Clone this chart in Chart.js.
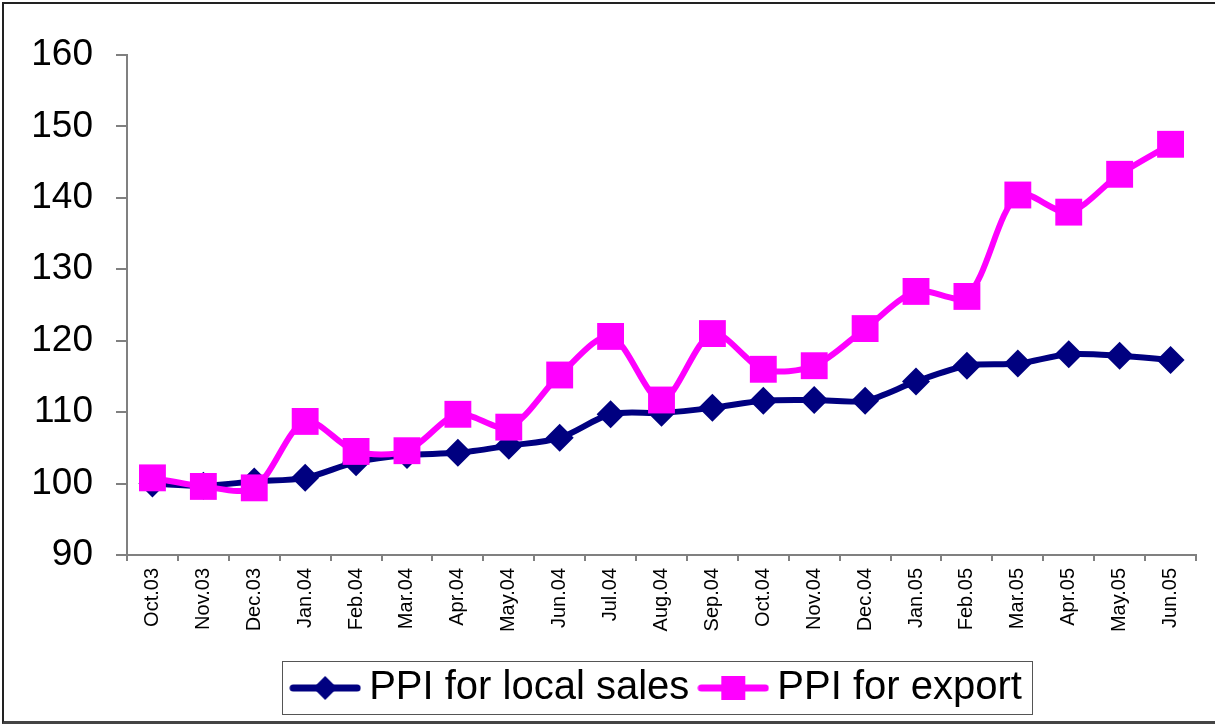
<!DOCTYPE html>
<html lang="en">
<head>
    <meta charset="UTF-8">
    <title>PPI for local sales and export</title>
    <script src="https://cdn.jsdelivr.net/npm/chart.js@4.4.0/dist/chart.umd.min.js"></script>
    <style>
        body {
            margin: 0;
            background: #fff;
        }
        .wrap {
            position: relative;
            width: 1215px;
            height: 725px;
            overflow: hidden;
        }
        .frame {
            position: absolute;
            left: 2px;
            top: 2px;
            width: 1240px;
            height: 717px;
            border-top: 2px solid #222;
            border-left: 2px solid #222;
            border-bottom: 3px solid #444;
            pointer-events: none;
        }
    </style>
</head>
<body>
    <div class="wrap">
        <canvas id="ppiChart" width="1215" height="725"></canvas>
        <div class="frame"></div>
    </div>

    <script>
        const months = ['Oct.03', 'Nov.03', 'Dec.03', 'Jan.04', 'Feb.04', 'Mar.04', 'Apr.04',
            'May.04', 'Jun.04', 'Jul.04', 'Aug.04', 'Sep.04', 'Oct.04', 'Nov.04', 'Dec.04',
            'Jan.05', 'Feb.05', 'Mar.05', 'Apr.05', 'May.05', 'Jun.05'];
        const localSales = [100, 99.7, 100.3, 100.8, 103, 104, 104.3, 105.3, 106.4, 109.7,
            109.9, 110.6, 111.6, 111.7, 111.6, 114.3, 116.5, 116.8, 118.1, 117.9, 117.3];
        const exportPrices = [100.8, 99.6, 99.4, 108.7, 104.5, 104.6, 109.7, 107.9, 115.2, 120.6,
            111.7, 121, 116, 116.5, 121.7, 126.9, 126.2, 140.4, 138, 143.3, 147.5];
        const yMin = 90;
        const yMax = 160;
        const yStep = 10;

        const FONT = "'Liberation Sans', Arial, sans-serif";
        const NAVY = '#000080';
        const MAGENTA = '#FF00FF';

        // little line+marker pictures for the legend, excel style
        function legendIcon(color, shape) {
            const c = document.createElement('canvas');
            c.width = 72;
            c.height = 30;
            const g = c.getContext('2d');
            g.strokeStyle = color;
            g.lineWidth = 7;
            g.lineCap = 'round';
            g.beginPath();
            g.moveTo(4, 15);
            g.lineTo(68, 15);
            g.stroke();
            g.fillStyle = color;
            if (shape === 'diamond') {
                g.beginPath();
                g.moveTo(36, 3);
                g.lineTo(48, 15);
                g.lineTo(36, 27);
                g.lineTo(24, 15);
                g.closePath();
                g.fill();
            } else {
                g.fillRect(24, 3, 24, 24);
            }
            return c;
        }
        const icons = [legendIcon(NAVY, 'diamond'), legendIcon(MAGENTA, 'square')];

        // box round the legend
        const legendFrame = {
            id: 'legendFrame',
            afterDraw(chart) {
                const hb = chart.legend && chart.legend.legendHitBoxes;
                if (!hb || !hb.length) return;
                const first = hb[0];
                const last = hb[hb.length - 1];
                const l = Math.round(first.left - 19);
                const r = Math.round(last.left + last.width + 10);
                const t = Math.round(first.top - 7);
                const b = Math.round(first.top + first.height + 6);
                const ctx = chart.ctx;
                ctx.save();
                ctx.strokeStyle = '#555';
                ctx.lineWidth = 1;
                ctx.strokeRect(l + 0.5, t + 0.5, r - l, b - t);
                ctx.restore();
            }
        };

        const ctx = document.getElementById('ppiChart').getContext('2d');
        new Chart(ctx, {
            type: 'line',
            data: {
                labels: months,
                datasets: [{
                    label: 'PPI for local sales',
                    data: localSales,
                    borderColor: NAVY,
                    backgroundColor: NAVY,
                    borderWidth: 6,
                    pointStyle: 'rectRot',
                    pointRadius: 14,
                    pointBorderWidth: 0,
                    pointHoverRadius: 14,
                    tension: 0.3,
                    order: 1
                }, {
                    label: 'PPI for export',
                    data: exportPrices,
                    borderColor: MAGENTA,
                    backgroundColor: MAGENTA,
                    borderWidth: 6,
                    pointStyle: 'rect',
                    pointRadius: 19,
                    pointBorderWidth: 0,
                    pointHoverRadius: 19,
                    tension: 0.3,
                    order: 0
                }]
            },
            options: {
                responsive: false,
                animation: false,
                layout: {
                    padding: { top: 55, right: 19, bottom: 7, left: 0 }
                },
                plugins: {
                    tooltip: { enabled: false },
                    legend: {
                        position: 'bottom',
                        fullSize: false,
                        labels: {
                            usePointStyle: true,
                            pointStyleWidth: 48,
                            padding: 20,
                            color: '#000',
                            font: { family: FONT, size: 40 },
                            generateLabels: chart => chart.data.datasets.map((ds, i) => ({
                                text: ds.label,
                                pointStyle: icons[i],
                                fillStyle: ds.borderColor,
                                strokeStyle: ds.borderColor,
                                lineWidth: 0,
                                hidden: false,
                                datasetIndex: i,
                                fontColor: '#000'
                            }))
                        }
                    }
                },
                scales: {
                    x: {
                        offset: true,
                        grid: {
                            offset: true,
                            drawOnChartArea: false,
                            tickLength: 6,
                            color: '#808080',
                            lineWidth: 2
                        },
                        border: { color: '#808080', width: 2 },
                        ticks: {
                            autoSkip: false,
                            minRotation: 90,
                            maxRotation: 90,
                            padding: 7,
                            color: '#000',
                            font: { family: FONT, size: 20 }
                        },
                        afterFit: s => { s.height = 93; }
                    },
                    y: {
                        min: yMin,
                        max: yMax,
                        grid: {
                            drawOnChartArea: false,
                            tickLength: 11,
                            color: '#808080',
                            lineWidth: 2
                        },
                        border: { color: '#808080', width: 2 },
                        ticks: {
                            stepSize: yStep,
                            padding: 23,
                            color: '#000',
                            font: { family: FONT, size: 37 }
                        },
                        afterFit: s => { s.width = 127; }
                    }
                }
            },
            plugins: [legendFrame]
        });
    </script>
</body>
</html>
